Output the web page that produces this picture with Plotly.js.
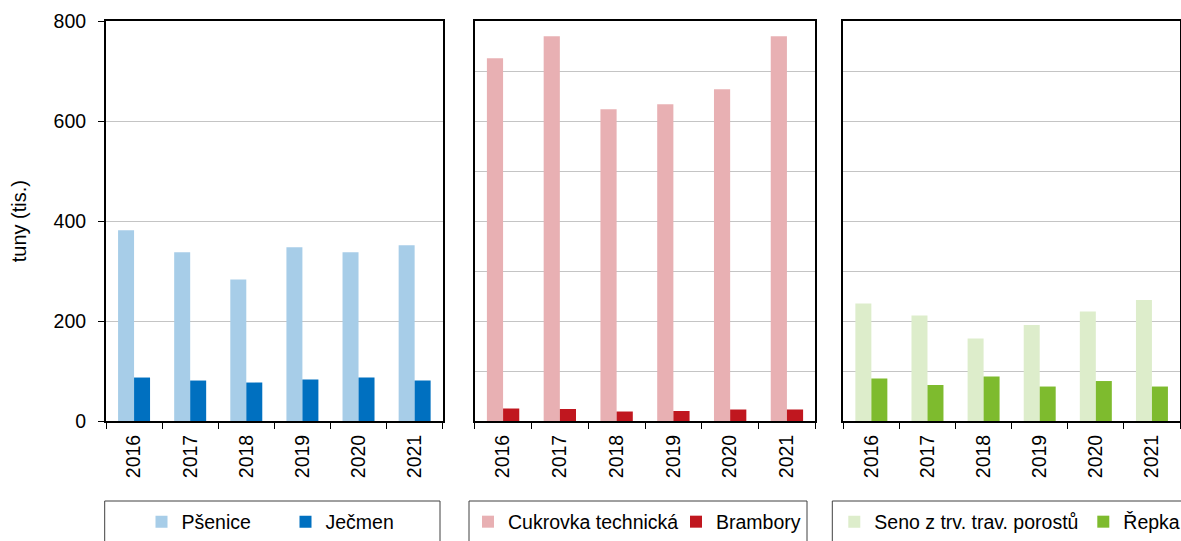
<!DOCTYPE html>
<html>
<head>
<meta charset="utf-8">
<script src="https://cdn.plot.ly/plotly-3.0.1.min.js"></script>
<style>html,body{margin:0;padding:0;background:#fff;}#chart{width:1181px;height:541px;}</style>
</head>
<body>
<div id="chart"></div>
<script>
const years = ["2016", "2017", "2018", "2019", "2020", "2021"];
const psenice = [382, 338, 283, 348, 338, 352];
const jecmen = [87, 81, 77, 83, 87, 81];
const cukrovka = [726, 770, 624, 634, 664, 770];
const brambory = [25, 24, 19, 20, 23, 23];
const seno = [235, 211, 165, 192, 219, 242];
const repka = [85, 72, 89, 69, 80, 69];
const yTitle = "tuny (tis.)";
const names = ["Pšenice", "Ječmen", "Cukrovka technická", "Brambory", "Seno z trv. trav. porostů", "Řepka"];

const W = 1181, H = 541;
const px = v => v / W;
const py = v => 1 - v / H;
const FONT = "Liberation Sans, Arial, sans-serif";
const FS = 19.5;

const colors = ["#A7CDE8", "#0070C0", "#E8B0B3", "#C0171F", "#DDEDCB", "#7EBB2E"];

function bar(y, i, xa, ya, leg) {
  return {type: "bar", x: years, y: y, name: names[i], xaxis: xa, yaxis: ya, legend: leg,
          marker: {color: colors[i], line: {width: 0}}, hoverinfo: "skip"};
}

const data = [
  bar(psenice, 0, "x", "y", "legend"),
  bar(jecmen, 1, "x", "y", "legend"),
  bar(cukrovka, 2, "x2", "y2", "legend2"),
  bar(brambory, 3, "x2", "y2", "legend2"),
  bar(seno, 4, "x3", "y3", "legend3"),
  bar(repka, 5, "x3", "y3", "legend3")
];

function xax(d0, d1, anchor) {
  return {domain: [px(d0), px(d1)], anchor: anchor, type: "category",
          showline: true, linecolor: "#000", linewidth: 2, mirror: true,
          ticks: "outside", tickson: "boundaries", ticklen: 6, tickcolor: "#000", tickwidth: 1,
          tickangle: -90, ticklabelstandoff: 4, showgrid: false, automargin: false,
          tickfont: {family: FONT, size: FS, color: "#000"}, fixedrange: true};
}
function yax(anchor, labels) {
  return {domain: [py(421), py(21.3)], anchor: anchor, range: [0, 800],
          dtick: labels ? 200 : 100, tick0: 0,
          showline: true, linecolor: "#000", linewidth: 2, mirror: true,
          showgrid: true, gridcolor: "#C4C4C4", gridwidth: 1, zeroline: false,
          ticks: labels ? "outside" : "", ticklen: 6, tickcolor: "#000", tickwidth: 1,
          showticklabels: labels, ticklabelstandoff: 8, automargin: false,
          tickfont: {family: FONT, size: FS, color: "#000"}, fixedrange: true};
}

const y1 = yax("x", true);
y1.title = {text: yTitle, font: {family: FONT, size: 20, color: "#000"}, standoff: 22};

function legendBox(x0, x1) {
  return {type: "rect", xref: "paper", yref: "paper", x0: px(x0), x1: px(x1), y0: py(546), y1: py(501),
          line: {color: "#404040", width: 1}, fillcolor: "rgba(0,0,0,0)"};
}
function leg(xs, ew) {
  return {orientation: "h", x: px(xs - 20), xanchor: "left", y: py(522), yanchor: "middle",
          bgcolor: "rgba(0,0,0,0)", borderwidth: 0, entrywidth: ew, entrywidthmode: "pixels",
          font: {family: FONT, size: FS, color: "#000"}, itemclick: false, itemdoubleclick: false};
}

const layout = {
  width: W, height: H,
  margin: {l: 0, r: 0, t: 0, b: 0, autoexpand: false},
  paper_bgcolor: "#fff", plot_bgcolor: "#fff",
  font: {family: FONT, size: FS, color: "#000"},
  barmode: "group", bargap: 0.43, bargroupgap: 0,
  hovermode: false,
  xaxis: xax(106, 442.7, "y"),
  xaxis2: xax(474.7, 815.3, "y2"),
  xaxis3: xax(843.3, 1180, "y3"),
  yaxis: y1,
  yaxis2: yax("x2", false),
  yaxis3: yax("x3", false),
  legend: leg(161.5, 99),
  legend2: leg(488, 163),
  legend3: leg(854.3, 204),
  shapes: [legendBox(104.7, 440), legendBox(469, 807), legendBox(832.3, 1190)]
};

Plotly.newPlot("chart", data, layout, {displayModeBar: false, staticPlot: true});
</script>
</body>
</html>
